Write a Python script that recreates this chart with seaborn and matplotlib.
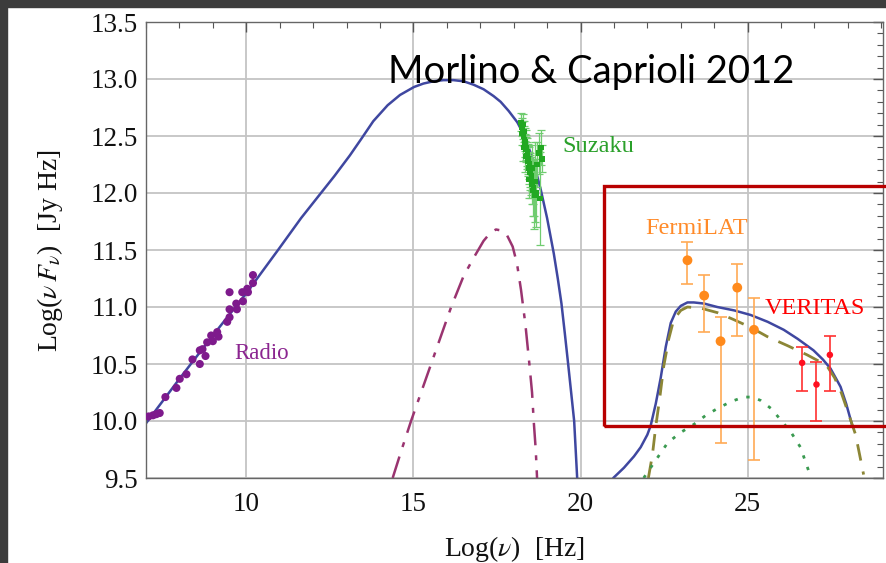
import numpy as np
import pandas as pd
import matplotlib
matplotlib.use("Agg")
import matplotlib.pyplot as plt
from matplotlib.patches import Rectangle
from matplotlib.ticker import MultipleLocator
import seaborn as sns

# ---------------- data ----------------
# total model (synchrotron + IC), low-energy hump
total_lo_x = [7.0, 8.0, 9.0, 10.0, 11.0, 11.64, 12.64, 13.1, 13.43, 13.8, 14.23, 14.6, 15.02, 15.3, 15.6,
              15.9, 16.2, 16.5, 16.8, 17.1, 17.4, 17.61, 17.85, 18.11, 18.29, 18.51, 18.65, 18.81, 19.0,
              19.2, 19.32, 19.43, 19.53, 19.63, 19.72, 19.81, 19.9]
total_lo_y = [9.98, 10.37, 10.75, 11.12, 11.52, 11.78, 12.15, 12.33, 12.47, 12.63, 12.77, 12.86, 12.93, 12.96,
              12.98, 12.99, 12.99, 12.98, 12.95, 12.91, 12.85, 12.80, 12.72, 12.62, 12.52, 12.35, 12.21,
              12.03, 11.78, 11.47, 11.25, 11.03, 10.77, 10.50, 10.25, 10.0, 9.5]
# total model, gamma-ray hump
total_hi_x = [20.98, 21.3, 21.6, 21.8, 22.0, 22.1, 22.25, 22.4, 22.55, 22.7, 22.85, 23.0, 23.2, 23.39,
              23.7, 24.09, 24.6, 25.09, 25.6, 26.08, 26.5, 26.97, 27.25, 27.48, 27.65, 27.78, 27.95, 28.13]
total_hi_y = [9.5, 9.59, 9.69, 9.77, 9.88, 9.96, 10.15, 10.38, 10.65, 10.86, 10.96, 11.01, 11.04, 11.04,
              11.03, 11.0, 10.97, 10.93, 10.87, 10.80, 10.72, 10.62, 10.54, 10.46, 10.37, 10.30, 10.15, 9.96]
# secondary synchrotron (dash-dot)
sec_x = [14.38, 14.65, 14.93, 15.23, 15.53, 15.83, 16.13, 16.5, 16.8, 17.1, 17.3, 17.47, 17.65, 17.8,
         17.97, 18.1, 18.22, 18.35, 18.47, 18.55, 18.6, 18.66, 18.7]
sec_y = [9.5, 9.75, 10.0, 10.25, 10.5, 10.75, 11.0, 11.27, 11.43, 11.58, 11.65, 11.68, 11.67, 11.63,
         11.53, 11.38, 11.15, 10.85, 10.5, 10.25, 10.0, 9.75, 9.5]
# hadronic gamma (dashed)
had_x = [22.03, 22.15, 22.25, 22.37, 22.49, 22.64, 22.79, 23.0, 23.2, 23.6, 24.1, 24.58, 25.1, 25.59,
         26.2, 26.78, 27.1, 27.38, 27.6, 27.8, 28.0, 28.23, 28.47]
had_y = [9.5, 9.7, 9.95, 10.2, 10.48, 10.72, 10.89, 10.97, 11.0, 10.99, 10.95, 10.89, 10.82, 10.74,
         10.66, 10.58, 10.53, 10.48, 10.38, 10.25, 10.08, 9.88, 9.53]
# leptonic gamma (dotted)
lep_x = [21.89, 22.19, 22.61, 23.0, 23.39, 23.75, 24.1, 24.5, 24.88, 25.15, 25.39, 25.7, 25.99, 26.3, 26.58, 26.9]
lep_y = [9.5, 9.63, 9.81, 9.9, 9.97, 10.05, 10.11, 10.17, 10.21, 10.21, 10.18, 10.11, 10.01, 9.9, 9.77, 9.5]

# radio data
radio_x = [7.08, 7.21, 7.31, 7.41, 7.58, 7.91, 8.01, 8.21, 8.39, 8.61, 8.61, 8.78, 8.69, 8.83, 8.95,
           9.0, 9.13, 9.17, 9.43, 9.5, 9.5, 9.5, 9.72, 9.7, 9.88, 9.9, 10.03, 10.05, 10.2, 10.2]
radio_y = [10.04, 10.05, 10.06, 10.07, 10.21, 10.29, 10.37, 10.41, 10.54, 10.5, 10.62, 10.57, 10.63, 10.69, 10.75,
           10.70, 10.78, 10.74, 10.87, 10.91, 11.13, 10.98, 10.98, 11.03, 11.13, 11.05, 11.16, 11.13, 11.28, 11.21]

# Suzaku X-ray data
suz_x = [18.22, 18.25, 18.27, 18.28, 18.30, 18.31, 18.33, 18.34, 18.36, 18.37, 18.38, 18.40, 18.41, 18.43,
         18.44, 18.46, 18.47, 18.49, 18.50, 18.52, 18.53, 18.55, 18.57, 18.58, 18.60, 18.62, 18.64, 18.66,
         18.70, 18.75, 18.78, 18.82, 18.85, 18.24, 18.29, 18.35, 18.45, 18.56]
suz_y = [12.62, 12.58, 12.55, 12.60, 12.50, 12.54, 12.47, 12.42, 12.45, 12.38, 12.40, 12.33, 12.36, 12.28,
         12.30, 12.22, 12.26, 12.18, 12.20, 12.12, 12.15, 12.08, 12.10, 12.02, 12.05, 11.98, 12.10, 12.00,
         12.25, 12.35, 11.95, 12.40, 12.30, 12.52, 12.40, 12.32, 12.12, 12.22]
suz_err = [0.08, 0.08, 0.08, 0.09, 0.09, 0.09, 0.10, 0.10, 0.10, 0.11, 0.11, 0.12, 0.12, 0.13,
           0.13, 0.14, 0.14, 0.15, 0.15, 0.16, 0.17, 0.18, 0.20, 0.22, 0.25, 0.30, 0.35, 0.30,
           0.20, 0.18, 0.41, 0.15, 0.12, 0.10, 0.12, 0.14, 0.16, 0.20]

# Fermi-LAT data
fermi_x = [23.2, 23.7, 24.19, 24.69, 25.19]
fermi_y = [11.41, 11.10, 10.70, 11.17, 10.80]
fermi_up = [11.57, 11.28, 10.91, 11.38, 11.08]
fermi_lo = [11.20, 10.78, 9.81, 10.75, 9.66]

# VERITAS data
ver_x = [26.63, 27.06, 27.46]
ver_y = [10.51, 10.32, 10.58]
ver_up = [10.65, 10.52, 10.75]
ver_lo = [10.26, 10.00, 10.26]

# ---------------- style ----------------
sns.set_theme(style="white")
plt.rcParams['font.family'] = ['Liberation Serif', 'DejaVu Serif']
plt.rcParams['mathtext.fontset'] = 'stix'

fig = plt.figure(figsize=(8.86, 5.63), dpi=100)
ax = fig.add_axes([146 / 886, 85 / 563, (883 - 146) / 886, 456 / 563])

# dark border of the screenshot
fig.patches.append(Rectangle((0, 1 - 7 / 563), 1, 7 / 563, transform=fig.transFigure,
                             color='#3c3c3c', zorder=10))
fig.patches.append(Rectangle((0, 0), 7 / 886, 1, transform=fig.transFigure,
                             color='#3c3c3c', zorder=10))

blue = '#3f47a0'
sns.lineplot(x=total_lo_x, y=total_lo_y, sort=False, estimator=None, ax=ax, color=blue, lw=1.8)
sns.lineplot(x=total_hi_x, y=total_hi_y, sort=False, estimator=None, ax=ax, color=blue, lw=1.8)
sns.lineplot(x=sec_x, y=sec_y, sort=False, estimator=None, ax=ax, color='#9a3470', lw=1.8,
             linestyle=(0, (9, 4, 2, 4)))
sns.lineplot(x=had_x, y=had_y, sort=False, estimator=None, ax=ax, color='#8c8636', lw=2.0,
             linestyle=(0, (6, 4)))
sns.lineplot(x=lep_x, y=lep_y, sort=False, estimator=None, ax=ax, color='#3a9a50', lw=2.0,
             linestyle=(0, (1.2, 3.2)))

# data points
ax.errorbar(suz_x, suz_y, yerr=suz_err, fmt='none', ecolor='#70cc70', elinewidth=0.9,
            capsize=3, capthick=0.9, zorder=3)
sns.scatterplot(x=suz_x, y=suz_y, ax=ax, color='#22a822', s=16, edgecolor='none', zorder=4,
                marker='s')
sns.scatterplot(x=radio_x, y=radio_y, ax=ax, color='#7e1a8c', s=34, edgecolor='none', zorder=4)

f_err = [np.array(fermi_y) - np.array(fermi_lo), np.array(fermi_up) - np.array(fermi_y)]
ax.errorbar(fermi_x, fermi_y, yerr=f_err, fmt='none', ecolor='#ffaa55', elinewidth=1.2,
            capsize=4, capthick=1.2, zorder=3)
sns.scatterplot(x=fermi_x, y=fermi_y, ax=ax, color='#ff8a1c', s=50, edgecolor='none', zorder=4)

v_err = [np.array(ver_y) - np.array(ver_lo), np.array(ver_up) - np.array(ver_y)]
ax.errorbar(ver_x, ver_y, yerr=v_err, fmt='none', ecolor='#ff3030', elinewidth=1.2,
            capsize=4, capthick=1.2, zorder=3)
sns.scatterplot(x=ver_x, y=ver_y, ax=ax, color='#ff1020', s=22, edgecolor='none', zorder=4)

# axes setup
ax.set_xlim(7, 29.05)
ax.set_ylim(9.5, 13.5)
ax.xaxis.set_major_locator(MultipleLocator(5))
ax.xaxis.set_minor_locator(MultipleLocator(1))
ax.yaxis.set_major_locator(MultipleLocator(0.5))
ax.yaxis.set_minor_locator(MultipleLocator(0.1))
ax.set_yticklabels([f"{v:.1f}" for v in ax.get_yticks()])
ax.grid(True, which='major', color='#c4c4c4', lw=1.3)
ax.set_axisbelow(True)
for s in ax.spines.values():
    s.set_color('#666666')
    s.set_linewidth(1.0)
ax.tick_params(which='both', direction='in', top=True, right=True, color='#555555',
               labelsize=19.5, labelcolor='#111111')
ax.tick_params(which='major', length=7, width=1.0)
ax.tick_params(axis='y', which='major', pad=6)
ax.tick_params(axis='x', which='major', pad=10)
ax.tick_params(which='minor', length=4, width=0.8)
ax.set_xlabel(r'Log($\nu$)  [Hz]', fontsize=20, labelpad=12, color='#111111')
ax.set_ylabel(r'Log($\nu\, F_\nu$)  [Jy Hz]', fontsize=20, labelpad=18, color='#111111')

# annotations
ax.text(9.63, 10.59, 'Radio', color='#8b2590', fontsize=16.5, va='center', ha='left')
ax.text(19.46, 12.41, 'Suzaku', color='#2aa02a', fontsize=17.5, va='center', ha='left')
ax.text(21.95, 11.69, 'FermiLAT', color='#ff8a28', fontsize=17.5, va='center', ha='left')
ax.text(25.51, 10.99, 'VERITAS', color='#ff0000', fontsize=17.5, va='center', ha='left')

# red highlight box
ax.add_patch(Rectangle((20.7, 9.96), 9.0, 12.06 - 9.96, fill=False, edgecolor='#b80000',
                       lw=2.4, clip_on=False, zorder=6))

fig.text(388 / 886, 1 - 83 / 563, 'Morlino & Caprioli 2012', family='Lato', fontsize=27.5,
         ha='left', va='baseline', color='#000000')

fig.savefig('out.png', dpi=100)
